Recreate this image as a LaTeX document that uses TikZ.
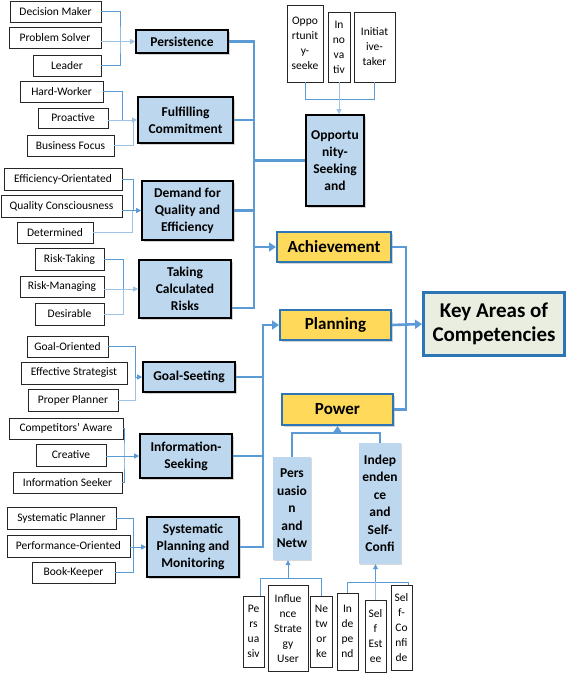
\documentclass[tikz,border=0pt]{standalone}
\usepackage{fontspec}
\setmainfont{Carlito}
\usetikzlibrary{arrows.meta,shadows}
\definecolor{cblue}{HTML}{5B9BD5}
\definecolor{clight}{HTML}{9DC3E6}
\definecolor{midfill}{HTML}{BDD7EE}
\definecolor{yelfill}{HTML}{FFD95A}
\definecolor{yelline}{HTML}{2E75B6}
\definecolor{keyfill}{HTML}{E9EEE0}
\begin{document}
\begin{tikzpicture}[x=1pt,y=-1pt,
  box/.style={inner sep=0pt, align=center},
  wh/.style 2 args={minimum width=#1pt, minimum height=#2pt},
  leaf/.style={box, draw=black!85, line width=0.9pt, fill=white, font=\fontsize{11.5}{15}\selectfont},
  mid/.style={box, draw=black, line width=1.6pt, fill=midfill, font=\bfseries\fontsize{13.5}{17}\selectfont,
    drop shadow={shadow xshift=1.5pt, shadow yshift=-1.5pt, opacity=0.35}},
  pale/.style={box, fill=midfill, font=\bfseries\fontsize{13.5}{17.5}\selectfont,
    drop shadow={shadow xshift=1pt, shadow yshift=-1pt, opacity=0.3}},
  yel/.style={box, fill=yelfill, draw=yelline, line width=2pt, font=\bfseries\fontsize{17}{20}\selectfont,
    drop shadow={shadow xshift=1.5pt, shadow yshift=-1.5pt, opacity=0.35}},
  keybox/.style={box, fill=keyfill, draw=yelline, line width=3pt, font=\bfseries\fontsize{21}{24}\selectfont,
    drop shadow={shadow xshift=1.5pt, shadow yshift=-1.5pt, opacity=0.35}},
  thin/.style={draw=cblue, line width=0.8pt},
  lt/.style={draw=clight, line width=0.8pt},
  arr/.style={-{Triangle[length=5pt,width=5pt]}},
  spine/.style={draw=cblue, line width=2.6pt},
  sarr/.style={-{Triangle[length=7pt,width=9pt]}}
]
\useasboundingbox (0,0) rectangle (567,673);

% ---- left leaves and mid boxes (achievement side)
\node[leaf,wh={91}{21}] (dm) at (55.5,11.5) {Decision Maker};
\node[leaf,wh={92}{21}] (ps) at (55,37.5) {Problem Solver};
\node[leaf,wh={68}{21}] (ld) at (67,65.5) {Leader};
\node[mid,wh={92}{23}] (pers) at (182,41.5) {Persistence};

\node[leaf,wh={83}{21}] (hw) at (61.5,91.5) {Hard-Worker};
\node[leaf,wh={70}{20}] (pa) at (73,118) {Proactive};
\node[leaf,wh={87}{21}] (bf) at (70.5,145.5) {Business Focus};
\node[mid,wh={95}{46}] (ful) at (185.5,120) {Fulfilling\\Commitment};

\node[leaf,wh={118}{22}] (eo) at (63,179) {Efficiency-Orientated};
\node[leaf,wh={121}{22}] (qc) at (61.5,206) {Quality Consciousness};
\node[leaf,wh={76}{21}] (dt) at (55,232.5) {Determined};
\node[mid,wh={91}{59}] (dem) at (187.5,210.5) {Demand for\\Quality and\\Efficiency};

\node[leaf,wh={69}{22}] (rt) at (69.5,259) {Risk-Taking};
\node[leaf,wh={84}{21}] (rm) at (62,286.5) {Risk-Managing};
\node[leaf,wh={69}{22}] (ds) at (69.5,314) {Desirable};
\node[mid,wh={92}{58}] (tak) at (185,289) {Taking\\Calculated\\Risks};

% ---- opportunity seeking
\node[leaf,wh={36}{77}] (os) at (305,43.5) {Oppo\\rtunit\\y-\\seeke};
\node[leaf,wh={22}{70}] (inv) at (339,47) {In\\no\\va\\tiv};
\node[leaf,wh={41}{70}] (it) at (374.5,47) {Initiat\\ive-\\taker};
\node[mid,wh={58}{91}] (opp) at (335,160.5) {Opportu\\nity-\\Seeking\\and};

% ---- key areas
\node[yel,wh={114}{30}] (ach) at (334,247) {Achievement};
\node[yel,wh={111}{30}] (plan) at (335.5,325) {Planning};
\node[yel,wh={111}{31}] (pow) at (337.5,409.5) {Power};
\node[keybox,wh={141}{63}] (key) at (494,324) {Key Areas of\\Competencies};

% ---- planning side
\node[leaf,wh={81}{21}] (go) at (67.5,346.5) {Goal-Oriented};
\node[leaf,wh={106}{22}] (es) at (74,373) {Effective Strategist};
\node[leaf,wh={90}{22}] (pp) at (73,400) {Proper Planner};
\node[mid,wh={92}{30}] (gs) at (189,377) {Goal-Seeting};

\node[leaf,wh={114}{21}] (ca) at (66,428.5) {Competitors' Aware};
\node[leaf,wh={70}{22}] (cr) at (71,455) {Creative};
\node[leaf,wh={109}{21}] (is) at (67.5,482.5) {Information Seeker};
\node[mid,wh={92}{44}] (ins) at (186,456) {Information-\\Seeking};

\node[leaf,wh={109}{22}] (sp) at (61.5,518) {Systematic Planner};
\node[leaf,wh={123}{22}] (po) at (68.5,546) {Performance-Oriented};
\node[leaf,wh={83}{21}] (bk) at (73.5,572.5) {Book-Keeper};
\node[mid,wh={92}{60}] (sys) at (193,547) {Systematic\\Planning and\\Monitoring};

% ---- power side
\node[pale,wh={38}{103}] (per) at (292,508.5) {Pers\\uasio\\n\\and\\Netw};
\node[pale,wh={42}{121}] (ind) at (380,503.5) {Indep\\enden\\ce\\and\\Self-\\Confi};

\node[leaf,wh={21}{71}] (pe) at (253.5,631.5) {Pe\\rs\\ua\\siv};
\node[leaf,wh={40}{86}] (inf) at (288,628.5) {Influe\\nce\\Strate\\gy\\User};
\node[leaf,wh={22}{71}] (nw) at (321.5,631.5) {Ne\\tw\\or\\ke};
\node[leaf,wh={21}{77}] (idp) at (347.5,631.5) {In\\de\\pe\\nd};
\node[leaf,wh={21}{72}] (se) at (375.5,636) {Sel\\f\\Est\\ee};
\node[leaf,wh={21}{85}] (sc) at (401.5,627.5) {Sel\\f-\\Co\\nfi\\de};

% ---- thin connectors
\draw[thin] (dm.east) -| (120,41.5) |- (ld.east);
\draw[lt,arr] (ps.east |- pers.west) -- (pers.west);

\draw[thin] (hw.east) -| (122,120);
\draw[lt] (bf.east) -| (133,120);
\draw[lt,arr] (pa.east |- ful.west) -- (ful.west);

\draw[thin] (eo.east) -| (133,210.5);
\draw[lt] (dt.east) -| (132,210.5);
\draw[thin,arr] (qc.east |- dem.west) -- (dem.west);

\draw[thin] (rt.east) -| (123,289);
\draw[lt] (ds.east) -| (123,289);
\draw[lt,arr] (rm.east |- tak.west) -- (tak.west);

\draw[thin] (os.south) |- (339,99);
\draw[thin] (it.south) |- (339,99);
\draw[lt,arr] (inv.south) -- (inv.south |- opp.north);

\draw[thin] (go.east) -| (135,377);
\draw[lt] (pp.east) -| (135,377);
\draw[thin,arr] (135,377) -- (gs.west);

\draw[thin] (ca.east) -| (124,456) |- (is.east);
\draw[thin,arr] (cr.east |- ins.west) -- (ins.west);

\draw[thin] (sp.east) -| (133,547);
\draw[thin] (bk.east) -| (133,547);
\draw[thin,arr] (po.east |- sys.west) -- (sys.west);

\coordinate (l1) at ([xshift=-4pt]pe.north east);
\draw[thin] (l1) |- (nw.north |- 0,578) -- (nw.north);
\draw[thin,arr] (inf.north |- 0,578) -- (inf.north |- per.south);

\coordinate (r1) at ([xshift=-4pt]sc.north east);
\draw[thin] (idp.north) |- (r1 |- 0,582) -- (r1);
\draw[lt] (se.north) -- (se.north |- 0,582);
\draw[thin,arr] (se.north |- 0,582) -- (se.north |- ind.south);

% ---- thick connectors
\draw[spine] (pers.east) -| (254,308) -- (tak.east |- 0,308);
\draw[spine] (ful.east) -- (ful.east -| 254,0);
\draw[spine] (dem.east) -- (dem.east -| 254,0);
\draw[spine] (opp.west) -- (opp.west -| 254,0);
\draw[spine,sarr] (ach.west -| 254,0) -- (ach.west);

\draw[spine,sarr] (sys.east) -| (263,325) -- (plan.west);
\draw[spine] (gs.east) -- (gs.east -| 263,0);
\draw[spine] (ins.east) -- (ins.east -| 263,0);

\draw[spine] (ach.east) -| (406,409.5) -- (pow.east);
\draw[spine,sarr] (plan.east) -- (key.west);

\draw[spine] (per.north) |- (ind.north |- 0,433) -- (ind.north);
\draw[spine,sarr] (pow.south |- 0,433) -- (pow.south);
\end{tikzpicture}
\end{document}
